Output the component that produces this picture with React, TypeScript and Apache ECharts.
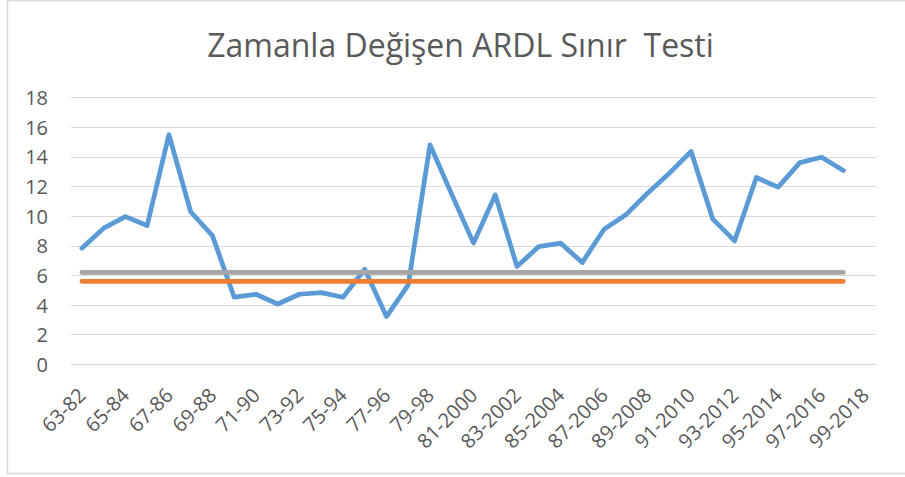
import React, { useEffect, useRef } from "react";
import * as echarts from "echarts";

const titleText = "Zamanla Değişen ARDL Sınır  Testi";

const categories = [
  "63-82", "64-83", "65-84", "66-85", "67-86", "68-87", "69-88", "70-89", "71-90", "72-91",
  "73-92", "74-93", "75-94", "76-95", "77-96", "78-97", "79-98", "80-99", "81-2000", "82-2001",
  "83-2002", "84-2003", "85-2004", "86-2005", "87-2006", "88-2007", "89-2008", "90-2009", "91-2010", "92-2011",
  "93-2012", "94-2013", "95-2014", "96-2015", "97-2016", "98-2017", "99-2018",
];

const testStat = [
  7.84, 9.19, 9.97, 9.37, 15.5, 10.3, 8.69, 4.53, 4.73, 4.07,
  4.73, 4.84, 4.53, 6.42, 3.22, 5.36, 14.82, 11.47, 8.18, 11.44,
  6.6, 7.95, 8.18, 6.87, 9.12, 10.09, 11.55, 12.9, 14.37, 9.8,
  8.33, 12.61, 11.96, 13.62, 13.98, 13.08, null,
];

const lowerBound = [
  5.6, 5.6, 5.6, 5.6, 5.6, 5.6, 5.6, 5.6, 5.6, 5.6,
  5.6, 5.6, 5.6, 5.6, 5.6, 5.6, 5.6, 5.6, 5.6, 5.6,
  5.6, 5.6, 5.6, 5.6, 5.6, 5.6, 5.6, 5.6, 5.6, 5.6,
  5.6, 5.6, 5.6, 5.6, 5.6, 5.6, null,
];

const upperBound = [
  6.2, 6.2, 6.2, 6.2, 6.2, 6.2, 6.2, 6.2, 6.2, 6.2,
  6.2, 6.2, 6.2, 6.2, 6.2, 6.2, 6.2, 6.2, 6.2, 6.2,
  6.2, 6.2, 6.2, 6.2, 6.2, 6.2, 6.2, 6.2, 6.2, 6.2,
  6.2, 6.2, 6.2, 6.2, 6.2, 6.2, null,
];

const FONT = "'Open Sans', 'Noto Sans', sans-serif";

export default function App() {
  const ref = useRef<HTMLDivElement>(null);
  useEffect(() => {
    if (!ref.current) return;
    const chart = echarts.init(ref.current, undefined, { renderer: "svg" });
    chart.setOption({
      animation: false,
      backgroundColor: "#ffffff",
      graphic: [
        {
          type: "rect",
          shape: { x: 7.5, y: 0.5, width: 905, height: 473 },
          style: { fill: "none", stroke: "#d9d9d9", lineWidth: 1.5 },
          silent: true,
        },
        {
          type: "text",
          x: 460.5,
          y: 44,
          style: {
            text: titleText,
            fontFamily: FONT,
            fontSize: 32,
            fill: "#595959",
            align: "center",
            verticalAlign: "middle",
          },
        },
      ],
      grid: { left: 71, right: 29, top: 97.7, bottom: 112.7, containLabel: false },
      xAxis: {
        type: "category",
        data: categories,
        boundaryGap: true,
        axisLine: { show: true, lineStyle: { color: "#d9d9d9", width: 1 } },
        axisTick: { show: false },
        axisLabel: {
          interval: 1,
          rotate: 45,
          margin: 27,
          color: "#595959",
          fontFamily: FONT,
          fontSize: 20,
        },
        splitLine: { show: false },
      },
      yAxis: {
        type: "value",
        min: 0,
        max: 18,
        interval: 2,
        axisLine: { show: false },
        axisTick: { show: false },
        axisLabel: {
          margin: 23,
          color: "#595959",
          fontFamily: FONT,
          fontSize: 20,
        },
        splitLine: { show: true, lineStyle: { color: "#d9d9d9", width: 1 } },
      },
      series: [
        {
          name: "Test",
          type: "line",
          data: testStat,
          showSymbol: false,
          symbol: "none",
          lineStyle: { color: "#5b9bd5", width: 4.75, cap: "round", join: "round" },
          itemStyle: { color: "#5b9bd5" },
        },
        {
          name: "Alt",
          type: "line",
          data: lowerBound,
          showSymbol: false,
          symbol: "none",
          lineStyle: { color: "#ed7d31", width: 4.75, cap: "round" },
          itemStyle: { color: "#ed7d31" },
        },
        {
          name: "Üst",
          type: "line",
          data: upperBound,
          showSymbol: false,
          symbol: "none",
          lineStyle: { color: "#a5a5a5", width: 4.75, cap: "round" },
          itemStyle: { color: "#a5a5a5" },
        },
      ],
    });
    return () => chart.dispose();
  }, []);
  return (
    <div
      ref={ref}
      style={{ position: "absolute", left: 0, top: 0, width: 905, height: 477 }}
    />
  );
}
